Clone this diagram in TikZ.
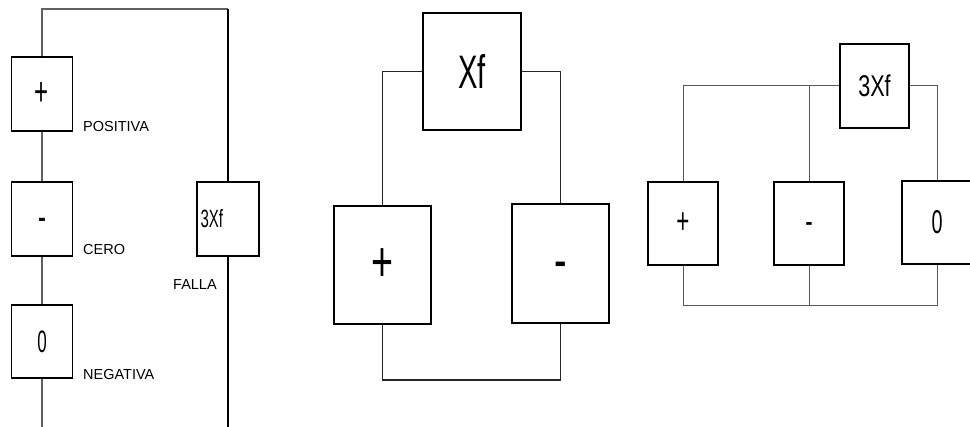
\documentclass[tikz,border=0pt]{standalone}
\usepackage{fontspec}
\usepackage{graphicx}
\setmainfont{Liberation Sans}
\newcommand\boxtxt[3]{\fontsize{#1}{#1}\selectfont\scalebox{#2}[1]{#3}}
\begin{document}
\begin{tikzpicture}[x=1pt,y=-1pt,
  box/.style={draw=black,line width=1.4pt,rectangle,inner sep=0pt,fill=white},
  gw/.style={draw=gray!75!black,line width=1.1pt},
  bw/.style={draw=black,line width=2pt},
  mw/.style={draw=black!85,line width=1.3pt},
  rw/.style={draw=gray!70!black,line width=1pt},
  lbl/.style={anchor=west,inner sep=0pt,font=\fontsize{14.5}{14.5}\selectfont}]
\useasboundingbox (0,0) rectangle (970,427);
% ---------- left diagram ----------
\coordinate (ltop) at (0,9);
\coordinate (lbot) at (0,427);
\node[box,minimum width=61pt,minimum height=74pt] (lp) at (42,94) {\boxtxt{40}{0.6}{+}};
\node[box,minimum width=61pt,minimum height=74pt] (lm) at (42,219) {\boxtxt{40}{0.6}{\vphantom{+}-}};
\node[box,minimum width=61pt,minimum height=73pt] (l0) at (42,341.5) {\boxtxt{31}{0.55}{0}};
\node[box,minimum width=62pt,minimum height=74pt,text width=62pt,align=left] (lf) at (228,219) {\hspace*{3.5pt}\boxtxt{25}{0.6}{3Xf}};
\node[lbl] (tpos) at (83,127) {POSITIVA};
\node[lbl] (tcero) at (83,250) {CERO};
\node[lbl] (tneg) at (83,375) {NEGATIVA};
\node[lbl] (tfalla) at (173,285) {FALLA};
\draw[gw] (lp.north) -- (lp.north |- ltop) -- (lf.north |- ltop);
\draw[gw] (lp.south) -- (lm.north);
\draw[gw] (lm.south) -- (l0.north);
\draw[gw] (l0.south) -- (l0.south |- lbot);
\draw[bw] (lf.north |- ltop) -- (lf.north);
\draw[bw] (lf.south) -- (lf.south |- lbot);
% ---------- middle diagram ----------
\coordinate (mbot) at (0,380);
\node[box,line width=1.8pt,minimum width=98pt,minimum height=117pt] (mx) at (472,71.5) {\boxtxt{47}{0.62}{Xf}};
\node[box,line width=1.8pt,minimum width=97pt,minimum height=118pt] (mp) at (382.5,265) {\boxtxt{57}{0.66}{+}};
\node[box,line width=1.8pt,minimum width=97pt,minimum height=119pt] (mm) at (560.5,263.5) {\boxtxt{57}{0.66}{\vphantom{+}-}};
\draw[mw] (mx.west) -| (mp.north);
\draw[mw] (mx.east) -| (mm.north);
\draw[mw] (mp.south) -- (mp.south |- mbot) -| (mm.south);
% ---------- right diagram ----------
\coordinate (rbot) at (0,306);
\node[box,line width=1.3pt,minimum width=69pt,minimum height=84pt] (r3) at (874.5,86) {\boxtxt{30}{0.72}{3Xf}};
\node[box,line width=1.3pt,minimum width=70pt,minimum height=83pt] (rp) at (683,223.5) {\boxtxt{36}{0.62}{+}};
\node[box,line width=1.3pt,minimum width=70pt,minimum height=83pt] (rm) at (809,223.5) {\boxtxt{36}{0.62}{\vphantom{+}-}};
\node[box,line width=1.3pt,minimum width=70pt,minimum height=83pt] (r0) at (937,222.5) {\boxtxt{33}{0.6}{0}};
\draw[rw] (r3.west) -| (rp.north);
\draw[rw] (rm.north) -- (rm.north |- r3.west);
\draw[rw] (r3.east) -| (r0.north);
\draw[rw] (rp.south) -- (rp.south |- rbot) -| (r0.south);
\draw[rw] (rm.south) -- (rm.south |- rbot);
\end{tikzpicture}
\end{document}
